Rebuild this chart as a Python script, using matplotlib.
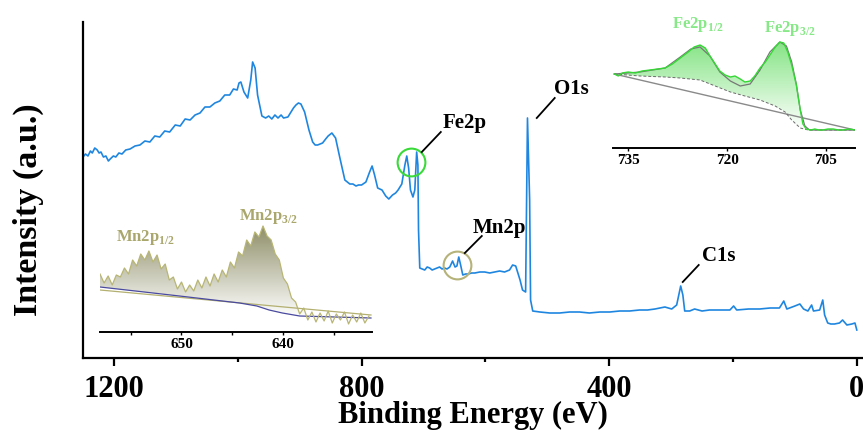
import numpy as np
import matplotlib
matplotlib.use('Agg')
import matplotlib.pyplot as plt
from matplotlib.patches import Polygon
from matplotlib.colors import LinearSegmentedColormap
from matplotlib.ticker import FixedLocator

plt.rcParams['font.family'] = 'Liberation Serif'
plt.rcParams['font.weight'] = 'bold'
plt.rcParams['mathtext.fontset'] = 'custom'
plt.rcParams['mathtext.rm'] = 'Liberation Serif:bold'
plt.rcParams['mathtext.bf'] = 'Liberation Serif:bold'

# survey spectrum (binding energy, intensity a.u.)
be_survey = [1250, 1246, 1242, 1238, 1235, 1231, 1227, 1224, 1221, 1217, 1213, 1209, 1206, 1201, 1197,
             1192, 1187, 1181, 1174, 1166, 1158, 1150, 1142, 1134, 1126, 1118, 1110, 1101, 1093, 1085,
             1077, 1069, 1061, 1053, 1045, 1037, 1029, 1021, 1013, 1007, 1001, 998, 995, 990, 984,
             979, 976, 972, 968, 961, 955, 950, 945, 940, 935, 930, 926, 919, 914, 910, 906, 902, 898, 892,
             885, 879, 875, 871, 867, 863, 858, 854, 848, 842, 835, 827, 823, 819, 814, 809, 805, 800,
             793, 787, 783, 779, 774, 767, 761, 756, 750, 745, 741, 735, 730, 727, 724, 721, 717, 714,
             711, 709, 708, 706, 702, 698, 694, 690, 686, 682, 678, 674, 670, 666, 662, 657.5, 653,
             649, 646, 643, 640, 636.5, 632, 628, 622, 617, 609, 601, 593, 585, 577, 569, 561, 556, 551,
             544, 540, 535, 532, 528.5, 527, 523.5, 512, 496, 480, 464, 448, 432, 415, 399, 383, 367,
             351, 338, 326, 318, 310, 299, 291, 284.5, 281, 278, 270, 262, 250, 238, 222, 205, 199, 194,
             175, 157, 140, 125, 118, 113, 100, 92, 86, 79, 73, 70, 60, 55, 52, 47, 42, 36, 28, 23, 16,
             8, 3, 0]
i_survey = [201, 204, 202, 207, 205, 210, 208, 205, 206, 201, 202, 197, 199, 202, 201,
            205, 204, 208, 209, 212, 213, 217, 216, 222, 221, 227, 226, 233, 232, 239,
            238, 243, 245, 251, 251, 255, 257, 263, 263, 269, 268, 275, 276, 266, 260,
            278, 296, 290, 263, 242, 240, 242, 239, 243, 240, 243, 240, 241, 246, 250, 253, 255, 254, 246,
            228, 216, 213, 213, 214, 215, 219, 222, 225, 220, 200, 178, 176, 174, 174, 172, 173, 173,
            176, 186, 192, 183, 170, 168, 162, 159, 163, 165, 168, 174, 193, 202, 190, 168, 161, 168,
            206, 193, 128, 90, 89, 88, 91, 90, 88, 89, 90, 91, 89, 90, 89, 91, 97,
            91, 92, 101, 93, 83, 84, 84, 85, 85, 86, 86, 85, 86, 87, 86, 88, 93, 92,
            78, 68, 66, 240, 158, 58, 47, 46, 45, 45, 46, 46, 45, 46, 46, 47, 47,
            48, 48, 49, 50, 51, 49, 53, 72, 63, 47, 47, 49, 47, 48, 48, 48, 52, 48,
            49, 49, 50, 50, 57, 49, 52, 54, 49, 47, 53, 47, 48, 58, 43, 35, 34, 34, 35, 38, 33,
            34, 35, 28]

# Fe 2p high resolution
be_fe = [737.1, 736.5, 735.9, 735.0, 733.9, 732.9, 731.7, 730.5, 729.4, 728.3, 727.1, 725.9, 725.0,
         724.1, 723.3, 722.6, 721.8, 721.1, 720.3, 719.5, 718.8, 718.0, 717.3, 716.5, 715.8, 715.0,
         714.2, 713.5, 712.7, 712.0, 711.4, 710.8, 710.2, 709.5, 708.9, 708.5, 708.0, 707.3, 706.7,
         706.1, 705.5, 704.7, 703.9, 703.1, 702.4, 701.5, 700.6]
i_fe = [74, 72, 75, 76, 75, 77, 78, 79, 80, 84, 90, 96, 101,
        103, 100, 92, 84, 77, 73, 71, 72, 69, 66, 67, 72, 80,
        86, 93, 101, 106, 105, 96, 83, 63, 38, 24, 19, 18, 19,
        18, 18, 19, 19, 18, 18, 19, 18]
be_fe_fit = [737.1, 733.2, 729.4, 727.1, 725.5, 724.1, 722.6, 721.1, 719.5, 718.0, 716.5, 715.0,
             713.5, 712.0, 711.0, 710.2, 709.5, 708.9, 708.2, 707.5, 700.6]
i_fe_fit = [74, 76, 80, 91, 99, 101, 92, 76, 67, 62, 64, 78,
            96, 106, 102, 86, 64, 38, 22, 18, 18]
be_fe_bg = [737.1, 700.6]
i_fe_bg = [74, 18]
be_fe_shirley = [737.1, 733.2, 729.4, 727.1, 724.1, 721.8, 719.5, 717.3, 715.0, 712.7, 711.2,
                 710.2, 708.9, 707.7, 700.6]
i_fe_shirley = [74, 72, 71, 70, 68, 62, 56, 52, 48, 42, 36,
                28, 20, 18, 18]

# Mn 2p high resolution
be_mn = [658.0, 657.6, 657.2, 656.8, 656.4, 656.0, 655.6, 655.2, 654.8, 654.4, 654.0, 653.6,
         653.2, 652.8, 652.4, 652.0, 651.6, 651.2, 650.8, 650.4, 650.0, 649.6, 649.2, 648.8,
         648.4, 648.0, 647.6, 647.2, 646.8, 646.4, 646.0, 645.6, 645.2, 644.8, 644.4, 644.0,
         643.6, 643.2, 642.8, 642.4, 642.0, 641.6, 641.2, 640.8, 640.4, 640.0, 639.6, 639.2,
         638.8, 638.4, 638.0, 637.6, 637.2, 636.8, 636.4, 636.0, 635.6, 635.2, 634.8, 634.4,
         634.0, 633.6, 633.2, 632.8, 632.4, 632.0, 631.6]
i_mn = [58, 49, 56, 47, 57, 55, 64, 58, 72, 66, 78, 72,
        81, 70, 77, 63, 68, 52, 55, 43, 50, 40, 47, 41,
        52, 44, 55, 46, 58, 50, 62, 55, 70, 64, 80, 76,
        92, 86, 100, 95, 106, 96, 92, 78, 72, 54, 48, 34,
        30, 18, 24, 12, 20, 10, 19, 11, 21, 9, 18, 12,
        20, 8, 17, 10, 19, 9, 16]
be_mn_bg1 = [658.0, 650.2, 644.3, 642.6, 641.4, 640.1, 638.4, 631.4]
i_mn_bg1 = [45, 36, 29, 26, 22, 19, 16, 14]
be_mn_bg2 = [658.0, 631.4]
i_mn_bg2 = [42, 17]

blue = '#1f86e0'


def grad_fill(ax, x, y, xb, yb, color, top, bottom):
    verts = list(zip(x, y)) + list(zip(xb[::-1], yb[::-1]))
    poly = Polygon(verts, closed=True, facecolor='none', edgecolor='none')
    ax.add_patch(poly)
    cmap = LinearSegmentedColormap.from_list('g', ['white', color])
    grad = np.linspace(0, 1, 200).reshape(-1, 1)
    im = ax.imshow(grad, cmap=cmap, aspect='auto', origin='lower',
                   extent=[min(x), max(x), bottom, top], zorder=1)
    im.set_clip_path(poly)


fig = plt.figure(figsize=(8.63, 4.30), dpi=100)

# main survey axes
ax = fig.add_axes([83/863, 72/430, 780/863, 336/430])
ax.plot(be_survey, i_survey, color=blue, lw=1.2)
ax.set_xlim(1250, -10)
ax.set_ylim(0, 336)
ax.spines['top'].set_visible(False)
ax.spines['right'].set_visible(False)
ax.spines['left'].set_linewidth(1.6)
ax.spines['bottom'].set_linewidth(1.6)
ax.set_yticks([])
ax.xaxis.set_major_locator(FixedLocator([1200, 800, 400, 0]))
ax.xaxis.set_minor_locator(FixedLocator([1000, 600, 200]))
ax.tick_params(axis='x', which='major', direction='out', length=6, width=1.6, pad=6, labelsize=22)
ax.tick_params(axis='x', which='minor', direction='out', length=3, width=1.6)
ax.set_xlabel('Binding Energy (eV)', fontsize=22, fontweight='bold', labelpad=-2)
ax.set_ylabel('Intensity (a.u.)', fontsize=24.5, fontweight='bold')
ax.yaxis.set_label_coords(-0.05, 0.44)

# peak markers and labels
ax.plot([720.4], [196.5], 'o', ms=20, mfc='none', mec='#3ada3a', mew=1.5)
ax.plot([646.0], [93], 'o', ms=20, mfc='none', mec='#b5b27a', mew=1.5)
ax.plot([702.7, 672.0], [206, 226], color='black', lw=1.3)
ax.plot([633.2, 605.8], [105, 122], color='black', lw=1.3)
ax.plot([517, 488], [240, 260], color='black', lw=1.3)
ax.plot([281.2, 255.4], [76, 93], color='black', lw=1.3)
ax.text(668.8, 230, 'Fe2p', fontsize=15, fontweight='bold', ha='left', va='baseline')
ax.text(620.3, 125, 'Mn2p', fontsize=15, fontweight='bold', ha='left', va='baseline')
ax.text(489.5, 264, 'O1s', fontsize=15, fontweight='bold', ha='left', va='baseline')
ax.text(250.5, 97, 'C1s', fontsize=15, fontweight='bold', ha='left', va='baseline')

# Fe 2p inset
ax_fe = fig.add_axes([613/863, 282/430, 242/863, 133/430])
ax_fe.patch.set_alpha(0)
grad_fill(ax_fe, be_fe, i_fe, be_fe_shirley, i_fe_shirley, '#86e486', 106, 18)
ax_fe.plot(be_fe_bg, i_fe_bg, color='#8a8a8a', lw=1.0, zorder=2)
ax_fe.plot(be_fe_shirley, i_fe_shirley, color='#6a6a6a', lw=0.7, ls=(0, (3, 2)), zorder=2)
ax_fe.plot(be_fe_fit, i_fe_fit, color='#777777', lw=0.9, zorder=3)
ax_fe.plot(be_fe, i_fe, color='#35d835', lw=1.0, zorder=4)
ax_fe.set_xlim(737.3, 700.6)
ax_fe.set_ylim(0, 133)
for s in ['top', 'right', 'left']:
    ax_fe.spines[s].set_visible(False)
ax_fe.spines['bottom'].set_linewidth(1.4)
ax_fe.set_yticks([])
ax_fe.set_xticks([735, 720, 705])
ax_fe.tick_params(axis='x', direction='out', length=2.5, width=1, pad=2, labelsize=11)
ax_fe.text(724.4, 120, r'Fe2p$_{1/2}$', color='#86e886', fontsize=12, ha='center', va='baseline')
ax_fe.text(710.5, 116, r'Fe2p$_{3/2}$', color='#86e886', fontsize=12, ha='center', va='baseline')

# Mn 2p inset
ax_mn = fig.add_axes([100/863, 98/430, 272/863, 132/430])
ax_mn.patch.set_alpha(0)
grad_fill(ax_mn, be_mn, i_mn, be_mn_bg1, i_mn_bg1, '#8e8e68', 106, 14)
ax_mn.plot(be_mn_bg2, i_mn_bg2, color='#b3b070', lw=0.9, zorder=2)
ax_mn.plot(be_mn_bg1, i_mn_bg1, color='#4a4aa0', lw=0.9, zorder=2)
ax_mn.plot(be_mn, i_mn, color='#b8b674', lw=0.9, zorder=3)
ax_mn.set_xlim(658.0, 631.3)
ax_mn.set_ylim(0, 132)
for s in ['top', 'right', 'left']:
    ax_mn.spines[s].set_visible(False)
ax_mn.spines['bottom'].set_linewidth(1.4)
ax_mn.set_yticks([])
ax_mn.xaxis.set_major_locator(FixedLocator([650, 640]))
ax_mn.xaxis.set_minor_locator(FixedLocator([655, 645, 635]))
ax_mn.tick_params(axis='x', which='both', direction='out', length=2.5, width=1, pad=2, labelsize=11)
ax_mn.text(653.5, 91, r'Mn2p$_{1/2}$', color='#a9a76c', fontsize=12, ha='center', va='baseline')
ax_mn.text(641.5, 112, r'Mn2p$_{3/2}$', color='#a9a76c', fontsize=12, ha='center', va='baseline')

fig.savefig('out.png', dpi=100)
